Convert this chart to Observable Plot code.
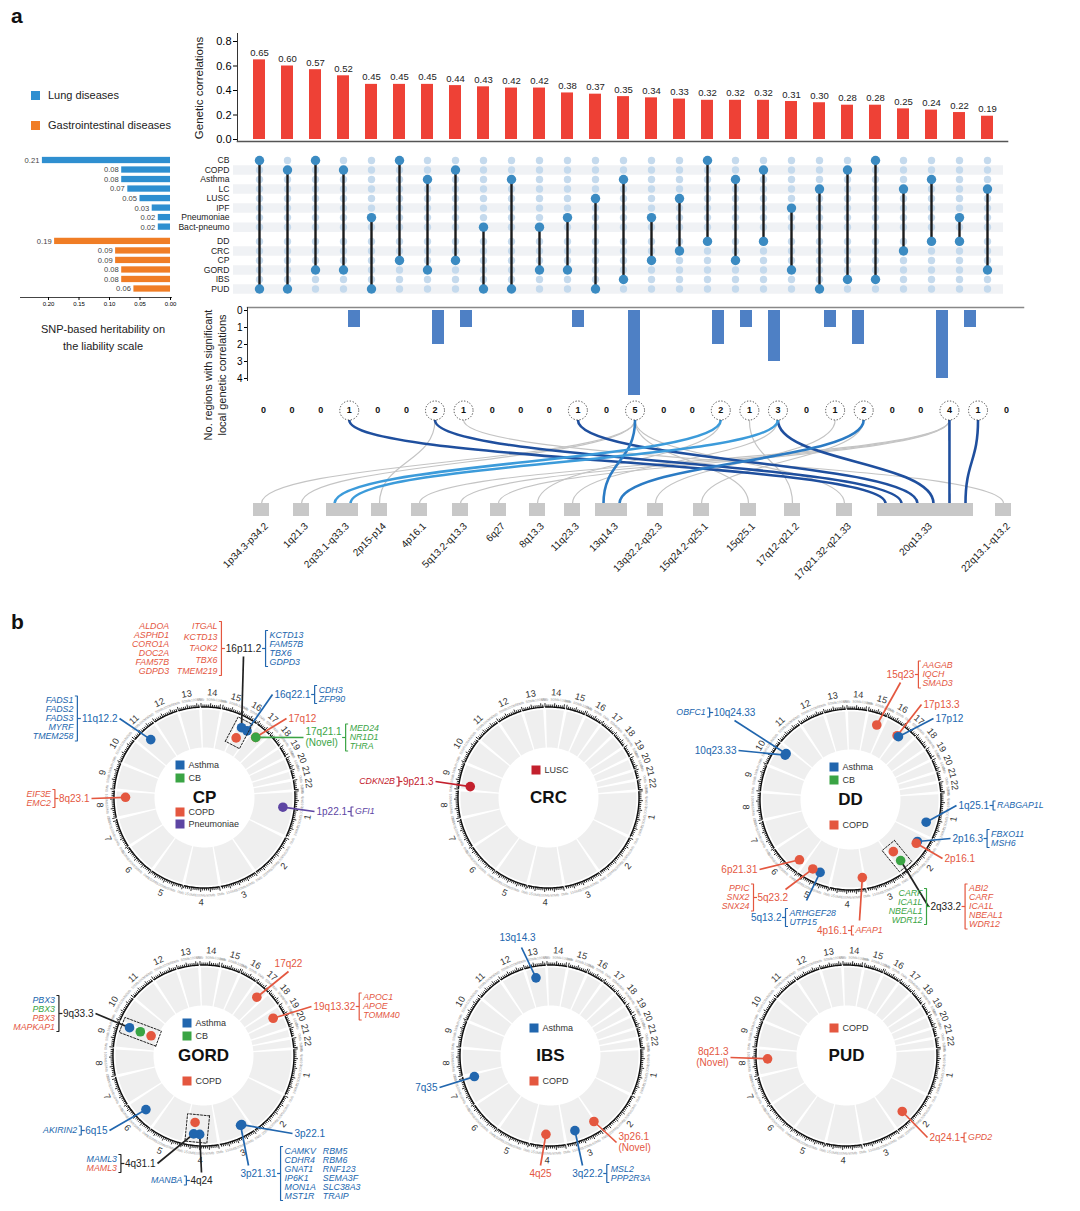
<!DOCTYPE html>
<html><head><meta charset="utf-8">
<script src="https://cdn.jsdelivr.net/npm/d3@7"></script>
<script src="https://cdn.jsdelivr.net/npm/@observablehq/plot@0.6"></script>
<style>
body{margin:0;background:#fff;font-family:"Liberation Sans",Arial,Helvetica,sans-serif;}
#wrap{position:relative;width:1080px;height:1211px;overflow:hidden;background:#fff;}
.t{position:absolute;white-space:nowrap;color:#222;line-height:1;}
</style></head>
<body><div id="wrap"></div>
<script>
// ---------------- DATA ----------------
const lungRows = ["CB","COPD","Asthma","LC","LUSC","IPF","Pneumoniae","Bact-pneumo"];
const giRows = ["DD","CRC","CP","GORD","IBS","PUD"];
const heritLung = [0.21,0.08,0.08,0.07,0.05,0.03,0.02,0.02];
const heritGI = [0.19,0.09,0.09,0.08,0.08,0.06];
const corrValues = [0.65,0.60,0.57,0.52,0.45,0.45,0.45,0.44,0.43,0.42,0.42,0.38,0.37,0.35,0.34,0.33,0.32,0.32,0.32,0.31,0.30,0.28,0.28,0.25,0.24,0.22,0.19];
const pairLung = ["CB","COPD","CB","COPD","Pneumoniae","CB","Asthma","COPD","Bact-pneumo","Asthma","Bact-pneumo","Pneumoniae","LUSC","Asthma","Pneumoniae","LUSC","CB","Asthma","COPD","IPF","LC","COPD","CB","LC","Asthma","Pneumoniae","LC"];
const pairGI = ["PUD","PUD","GORD","GORD","PUD","CP","GORD","CP","PUD","PUD","GORD","GORD","PUD","IBS","CP","CRC","DD","CP","DD","GORD","PUD","IBS","IBS","CRC","DD","DD","GORD"];
const regionCounts = [0,0,0,1,0,0,2,1,0,0,0,1,0,5,0,0,2,1,3,0,1,2,0,0,4,1,0];
const regions = ["1p34.3-p34.2","1q21.3","2q33.1-q33.3","2p15-p14","4p16.1","5q13.2-q13.3","6q27","8q13.3","11q23.3","13q14.3","13q32.2-q32.3","15q24.2-q25.1","15q25.1","17q12-q21.2","17q21.32-q21.33","20q13.33","22q13.1-q13.2"];
const linkFrom = [4,7,12,19,25,26,14,22,17,19,7,8,14,14,14,14,17,18,19,21,22,25,25,25];
const linkTo = ["20q13.33","20q13.33","20q13.33","20q13.33","20q13.33","20q13.33","13q14.3","13q14.3","2q33.1-q33.3","2q33.1-q33.3","2p15-p14","22q13.1-q13.2","1p34.3-p34.2","1q21.3","15q25.1","17q21.32-q21.33","8q13.3","17q12-q21.2","11q23.3","13q32.2-q32.3","15q24.2-q25.1","4p16.1","5q13.2-q13.3","6q27"];
const linkKind = ["dark","dark","dark","dark","dark","dark","mid","mid","light","light","gray","gray","gray","gray","gray","gray","gray","gray","gray","gray","gray","gray","gray","gray"];

const chromLengths = [249.25,243.2,198.0,191.15,180.9,171.1,159.1,146.4,141.2,135.5,135.0,133.85,115.2,107.35,102.5,90.35,81.2,78.1,59.1,63.0,48.1,51.3];

const cpHits = [
 {trait:"Asthma", region:"11q12.2", chr:11, mb:61.6},
 {trait:"COPD", region:"8q23.1", chr:8, mb:109.5},
 {trait:"Pneumoniae", region:"1p22.1", chr:1, mb:92.9},
 {trait:"Asthma", region:"16p11.2", chr:16, mb:30.0, group:"g1"},
 {trait:"COPD", region:"16p11.2", chr:16, mb:30.0, group:"g1"},
 {trait:"Asthma", region:"16q22.1", chr:16, mb:68.7},
 {trait:"COPD", region:"17q12", chr:17, mb:37.5},
 {trait:"CB", region:"17q21.1", chr:17, mb:38.2}
];
const cpLabels = [
 {text:"11q12.2", trait:"Asthma", left:{cols:[["FADS1","FADS2","FADS3","MYRF","TMEM258"]]}},
 {text:"8q23.1", trait:"COPD", left:{cols:[["EIF3E","EMC2"]]}},
 {text:"1p22.1", trait:"Pneumoniae", right:{cols:[["GFI1"]]}},
 {text:"16p11.2", trait:null, left:{trait:"COPD", cols:[["ALDOA","ASPHD1","CORO1A","DOC2A","FAM57B","GDPD3"],["ITGAL","KCTD13","TAOK2","TBX6","TMEM219"]]}, right:{trait:"Asthma", cols:[["KCTD13","FAM57B","TBX6","GDPD3"]]}},
 {text:"16q22.1", trait:"Asthma", right:{cols:[["CDH3","ZFP90"]]}},
 {text:"17q12", trait:"COPD"},
 {text:"17q21.1", trait:"CB", novel:true, right:{cols:[["MED24","NR1D1","THRA"]]}}
];
const crcHits = [{trait:"LUSC", region:"9p21.3", chr:9, mb:22.0}];
const crcLabels = [{text:"9p21.3", trait:"LUSC", left:{cols:[["CDKN2B"]]}}];
const ddHits = [
 {trait:"COPD", region:"15q23", chr:15, mb:67.4},
 {trait:"COPD", region:"17p13.3", chr:17, mb:2.0},
 {trait:"Asthma", region:"17p12", chr:17, mb:12.0},
 {trait:"Asthma", region:"10q24.33", chr:10, mb:105.7},
 {trait:"Asthma", region:"10q23.33", chr:10, mb:95.0},
 {trait:"Asthma", region:"1q25.1", chr:1, mb:174.2},
 {trait:"Asthma", region:"2p16.3", chr:2, mb:48.0},
 {trait:"COPD", region:"2p16.1", chr:2, mb:60.6},
 {trait:"CB", region:"2q33.2", chr:2, mb:203.5, group:"g1"},
 {trait:"COPD", region:"2q33.2", chr:2, mb:203.5, group:"g1"},
 {trait:"COPD", region:"4p16.1", chr:4, mb:7.8},
 {trait:"Asthma", region:"5q13.2", chr:5, mb:72.8},
 {trait:"COPD", region:"5q23.2", chr:5, mb:122.0},
 {trait:"COPD", region:"6p21.31", chr:6, mb:33.5}
];
const ddLabels = [
 {text:"15q23", trait:"COPD", right:{cols:[["AAGAB","IQCH","SMAD3"]]}},
 {text:"17p13.3", trait:"COPD"},
 {text:"17p12", trait:"Asthma"},
 {text:"10q24.33", trait:"Asthma", left:{cols:[["OBFC1"]]}},
 {text:"10q23.33", trait:"Asthma"},
 {text:"1q25.1", trait:"Asthma", right:{cols:[["RABGAP1L"]]}},
 {text:"2p16.3", trait:"Asthma", right:{cols:[["FBXO11","MSH6"]]}},
 {text:"2p16.1", trait:"COPD"},
 {text:"2q33.2", trait:null, left:{trait:"CB", cols:[["CARF","ICA1L","NBEAL1","WDR12"]]}, right:{trait:"COPD", cols:[["ABI2","CARF","ICA1L","NBEAL1","WDR12"]]}},
 {text:"4p16.1", trait:"COPD", right:{cols:[["AFAP1"]]}},
 {text:"5q13.2", trait:"Asthma", right:{cols:[["ARHGEF28","UTP15"]]}},
 {text:"5q23.2", trait:"COPD", left:{cols:[["PPIC","SNX2","SNX24"]]}},
 {text:"6p21.31", trait:"COPD"}
];
const gordHits = [
 {trait:"COPD", region:"17q22", chr:17, mb:55.0},
 {trait:"COPD", region:"19q13.32", chr:19, mb:45.4},
 {trait:"Asthma", region:"9q33.3", chr:9, mb:128.5, group:"g1"},
 {trait:"CB", region:"9q33.3", chr:9, mb:128.5, group:"g1"},
 {trait:"COPD", region:"9q33.3", chr:9, mb:128.5, group:"g1"},
 {trait:"Asthma", region:"4q24", chr:4, mb:103.6, group:"g2"},
 {trait:"Asthma", region:"4q31.1", chr:4, mb:140.6, group:"g2"},
 {trait:"COPD", region:"4q31.1", chr:4, mb:140.6, group:"g2"},
 {trait:"Asthma", region:"6q15", chr:6, mb:88.4},
 {trait:"Asthma", region:"3p22.1", chr:3, mb:42.0},
 {trait:"Asthma", region:"3p21.31", chr:3, mb:49.7}
];
const gordLabels = [
 {text:"17q22", trait:"COPD"},
 {text:"19q13.32", trait:"COPD", right:{cols:[["APOC1","APOE","TOMM40"]]}},
 {text:"9q33.3", trait:null, left:{cols:[[["PBX3","Asthma"],["PBX3","CB"],["PBX3","COPD"],["MAPKAP1","COPD"]]]}},
 {text:"4q31.1", trait:null, left:{cols:[[["MAML3","Asthma"],["MAML3","COPD"]]]}},
 {text:"4q24", trait:null, left:{trait:"Asthma", cols:[["MANBA"]]}},
 {text:"6q15", trait:"Asthma", left:{cols:[["AKIRIN2"]]}},
 {text:"3p22.1", trait:"Asthma"},
 {text:"3p21.31", trait:"Asthma", right:{cols:[["CAMKV","CDHR4","GNAT1","IP6K1","MON1A","MST1R"],["RBM5","RBM6","RNF123","SEMA3F","SLC38A3","TRAIP"]]}}
];
const ibsHits = [
 {trait:"Asthma", region:"13q14.3", chr:13, mb:51.0},
 {trait:"Asthma", region:"7q35", chr:7, mb:144.0},
 {trait:"COPD", region:"3p26.1", chr:3, mb:4.5},
 {trait:"Asthma", region:"3q22.2", chr:3, mb:133.5},
 {trait:"COPD", region:"4q25", chr:4, mb:108.0}
];
const ibsLabels = [
 {text:"13q14.3", trait:"Asthma"},
 {text:"7q35", trait:"Asthma"},
 {text:"3p26.1", trait:"COPD", novel:true},
 {text:"3q22.2", trait:"Asthma", right:{cols:[["MSL2","PPP2R3A"]]}},
 {text:"4q25", trait:"COPD"}
];
const pudHits = [
 {trait:"COPD", region:"8q21.3", chr:8, mb:88.0},
 {trait:"COPD", region:"2q24.1", chr:2, mb:157.3}
];
const pudLabels = [
 {text:"8q21.3", trait:"COPD", novel:true},
 {text:"2q24.1", trait:"COPD", right:{cols:[["GPD2"]]}}
];

// ---------------- STYLE / LAYOUT ----------------
const traitColors = {Asthma:"#2166ae", CB:"#3aa444", COPD:"#e4573f", Pneumoniae:"#5d45a3", LUSC:"#c3202d"};
const linkColors = {dark:"#1f4f9e", mid:"#2b7bc4", light:"#3c9bda", gray:"#c4c4c4"};
const REGION_GAPS = [24,17,13,24,25,22,23,19,15,20,30,31,28,36,25,22];
const GI_OFFSET = 8.5;
// label layout relative to circle centre: [dx, dy, anchor, lineEndDx, lineEndDy]
const cpLayout = {"11q12.2":[-85,-79,"end"], "8q23.1":[-113,1,"end"], "1p22.1":[110,14,"start"], "16p11.2":[39,-141,"above"], "16q22.1":[68,-103,"start"], "17q12":[82,-79,"start"], "17q21.1":[99,-60,"start"]};
const crcLayout = {"9p21.3":[-113,-16,"end"]};
const ddLayout = {"15q23":[50,-117,"above"], "17p13.3":[71,-95,"start"], "17p12":[83,-81,"start"], "10q24.33":[-116,-79,"above"], "10q23.33":[-112,-49,"end"], "1q25.1":[106,6,"start"], "2p16.3":[100,39,"start"], "2p16.1":[92,59,"start"], "2q33.2":[78,107,"start"], "4p16.1":[-1,131,"end",9,121], "5q13.2":[-67,118,"end",-44,101], "5q23.2":[-95,98,"start",-65,90], "6p21.31":[-91,70,"end"]};
const gordLayout = {"17q22":[85,-84,"above"], "19q13.32":[108,-49,"start"], "9q33.3":[-108,-42,"end"], "4q31.1":[-46,108,"end"], "4q24":[-2,117,"below"], "6q15":[-94,75,"end"], "3p22.1":[89,78,"start"], "3p21.31":[55,110,"below",45,110]};
const ibsLayout = {"13q14.3":[-33,-110,"above",-29,-108], "7q35":[-111,32,"end"], "3p26.1":[66,87,"start"], "3q22.2":[37,110,"below",32,110], "4q25":[-10,110,"below"]};
const pudLayout = {"8q21.3":[-116,2,"end"], "2q24.1":[81,82,"start"]};

const circles = [
 {name:"CP", hits:cpHits, labels:cpLabels, layout:cpLayout, legendTop:["Asthma","CB"], legendBottom:["COPD","Pneumoniae"], cx:204, cy:797},
 {name:"CRC", hits:crcHits, labels:crcLabels, layout:crcLayout, legendTop:["LUSC"], legendBottom:[], cx:548, cy:797},
 {name:"DD", hits:ddHits, labels:ddLabels, layout:ddLayout, legendTop:["Asthma","CB"], legendBottom:["COPD"], cx:850, cy:799},
 {name:"GORD", hits:gordHits, labels:gordLabels, layout:gordLayout, legendTop:["Asthma","CB"], legendBottom:["COPD"], cx:203, cy:1055},
 {name:"IBS", hits:ibsHits, labels:ibsLabels, layout:ibsLayout, legendTop:["Asthma"], legendBottom:["COPD"], cx:550, cy:1055},
 {name:"PUD", hits:pudHits, labels:pudLabels, layout:pudLayout, legendTop:["COPD"], legendBottom:[], cx:846, cy:1055}
];

const FONT = '"Liberation Sans", Arial, Helvetica, sans-serif';
const ST = `position:absolute;left:0;top:0;background:transparent;overflow:visible;font-family:${FONT};`;
const wrap = document.getElementById("wrap");
const place = el => wrap.appendChild(el);
function tw(s, fs){ let w=0; for(const ch of s){ if(".,;:!|'".includes(ch)) w+=0.278; else if("ijl".includes(ch)) w+=0.222; else if("()-[]{}frtI".includes(ch)) w+=0.333; else if("mM".includes(ch)) w+=0.833; else if(ch==="W") w+=0.944; else if(ch>="A"&&ch<="Z") w+=0.68; else w+=0.556; } return w*fs; }

// ---------------- PANEL A ----------------
const cols = d3.range(1, 28);
const corrData = cols.map((c,i)=>({col:c, value:corrValues[i], lung:pairLung[i], gi:pairGI[i]}));
const rowsAll = lungRows.map((n,i)=>({name:n, idx:i, shade:i%2===1})).concat(giRows.map((n,j)=>({name:n, idx:GI_OFFSET+j, shade:j%2===1})));
const rowIdx = new Map(rowsAll.map(r=>[r.name, r.idx]));
const heritData = lungRows.map((n,i)=>({name:n, h:heritLung[i], group:"lung", idx:rowIdx.get(n)})).concat(giRows.map((n,j)=>({name:n, h:heritGI[j], group:"gi", idx:rowIdx.get(n)})));
const countData = cols.map((c,i)=>({col:c, n:regionCounts[i]}));
const bandTop = {type:"band", domain:cols, range:[232.9,1013.1], padding:0.56, axis:null};
const bandLow = {type:"band", domain:cols, range:[240.7,1028.4], padding:0.56, axis:null};

// top bars
place(Plot.plot({
  width:1080, height:150, marginLeft:237, marginRight:73, marginTop:33, marginBottom:9, style:ST,
  x: bandTop, y:{domain:[0,0.8], range:[139,41]},
  marks:[
    Plot.barY(corrData, {x:"col", y:"value", fill:"#ee4136"}),
    Plot.text(corrData, {x:"col", y:"value", text:d=>d.value.toFixed(2), dy:-7, fontSize:9.5, fill:"#222"}),
    Plot.frame({anchor:"left", stroke:"#333"}),
    Plot.frame({anchor:"bottom", stroke:"#555", strokeWidth:1.6}),
    Plot.axisY({ticks:[0,0.2,0.4,0.6,0.8], tickFormat:d3.format(".1f"), tickSize:4, tickPadding:2, fontSize:11, label:null})
  ]
}));

// matrix
const actives = corrData.flatMap(d=>[{col:d.col, idx:rowIdx.get(d.lung)},{col:d.col, idx:rowIdx.get(d.gi)}]);
const cells = cols.flatMap(c=>rowsAll.map(r=>({col:c, idx:r.idx})));
place(Plot.plot({
  width:1080, height:300, marginLeft:233, marginRight:77, marginTop:150, marginBottom:5, style:ST,
  x: bandTop, y:{domain:[0,13.5], range:[160,288.5], axis:null},
  marks:[
    Plot.ruleY(rowsAll.filter(r=>r.shade), {y:"idx", stroke:"#f0f2f5", strokeWidth:9.5}),
    Plot.dot(cells, {x:"col", y:"idx", r:3.7, fill:"#c5daed"}),
    Plot.ruleX(corrData, {x:"col", y1:d=>rowIdx.get(d.lung), y2:d=>rowIdx.get(d.gi), stroke:"#1b1b1b", strokeWidth:2.4}),
    Plot.dot(actives, {x:"col", y:"idx", r:4.7, fill:"#3b8bc2"}),
    Plot.text(rowsAll, {y:"idx", text:"name", frameAnchor:"left", dx:-4, textAnchor:"end", fontSize:8.6, fill:"#222"})
  ]
}));

// heritability
place(Plot.plot({
  width:200, height:315, marginLeft:20, marginRight:29, marginTop:150, marginBottom:18, style:ST,
  x:{domain:[0,0.2], range:[170,48]}, y:{domain:[0,13.5], range:[160,288.5], axis:null}, color:{type:"identity"},
  marks:[
    Plot.rect(heritData, {x1:0, x2:"h", y1:d=>d.idx-0.33, y2:d=>d.idx+0.33, fill:d=>d.group==="lung"?"#2f8fd0":"#f07d25"}),
    Plot.text(heritData, {x:"h", y:"idx", text:d=>d.h.toFixed(2), textAnchor:"end", dx:-3, fontSize:7.6, fill:"#444"}),
    Plot.frame({anchor:"bottom", stroke:"#444"}),
    Plot.axisX({ticks:[0,0.05,0.1,0.15,0.2], tickFormat:d3.format(".2f"), tickSize:3, tickPadding:1, fontSize:6, label:null})
  ]
}));

// lower bars
place(Plot.plot({
  width:1080, height:400, marginLeft:247, marginRight:57, marginTop:307, marginBottom:20, style:ST,
  x: bandLow, y:{domain:[0,4], range:[310,378]},
  marks:[
    Plot.barY(countData.filter(d=>d.n>0), {x:"col", y:"n", fill:"#4e80c5"}),
    Plot.frame({anchor:"top", stroke:"#888", strokeWidth:1.5}),
    Plot.frame({anchor:"left", stroke:"#333"}),
    Plot.axisY({ticks:[0,1,2,3,4], tickFormat:d3.format("d"), tickSize:3, tickPadding:2, fontSize:10, label:null})
  ]
}));

// ---------------- OVERLAY (links + panel b) in page units ----------------
const colScale = d3.scaleBand().domain(cols).range(bandLow.range).padding(0.56);
const colX = c => colScale(c) + colScale.bandwidth()/2;
const linkData = linkFrom.map((c,i)=>({col:c, region:linkTo[i], kind:linkKind[i]}));
const slotsPer = d3.rollup(linkData, v=>v.length, d=>d.region);
let xcur = 253;
const regionBoxes = regions.map((name,i)=>{ if(i>0) xcur += REGION_GAPS[i-1]; const w = 16*(slotsPer.get(name)||1); const b = {name, x1:xcur, x2:xcur+w}; xcur += w; return b; });
const boxBy = new Map(regionBoxes.map(b=>[b.name,b]));
for (const [reg, arr] of d3.group(linkData, d=>d.region)) {
  const b = boxBy.get(reg); const s = arr.slice().sort((a,c)=>a.col-c.col);
  s.forEach((d,j)=>{ d.x2 = b.x1 + (b.x2-b.x1)*(j+0.5)/s.length; d.x1 = colX(d.col); });
}

// circle geometry
const S = 0.11885, GAP = 0.8, START = 86;
const chromStart = []; { let c=0; chromLengths.forEach(L=>{ chromStart.push(c); c+=L; }); }
const angOf = (chr, mb) => START + (chromStart[chr-1] + mb)*S + (chr-1)*GAP;
const polar = (cx,cy,r,a) => [cx + r*Math.sin(a*Math.PI/180), cy - r*Math.cos(a*Math.PI/180)];
function tangentRot(a){ let b = ((a%360)+360)%360; if (b>90 && b<270) return b-180; if (b>=270) return b-360; return b; }

const sectorPts=[], axisPts=[], ticks=[], tickLabels=[], chromLabels=[], dots=[], leaders=[], boxPts=[], bracketPts=[], connectors=[];
const labelsBy={start:[],end:[],middle:[]}, genesBy={left:[],right:[]};
const legendRects=[], legendTexts=[], titles=[];

circles.forEach(C=>{
  const {cx, cy} = C;
  chromLengths.forEach((L,k)=>{
    const chr=k+1, a0=angOf(chr,0), a1=angOf(chr,L);
    const n = Math.max(4, Math.ceil(a1-a0));
    const id = C.name+"-"+chr;
    for (let i=0;i<=n;i++){ const a=a0+0.45+(a1-a0-0.9)*i/n; const [x,y]=polar(cx,cy,69,a); sectorPts.push({x,y,id}); }
    for (let i=0;i<=n;i++){ const a=a0+(a1-a0)*i/n; const [x,y]=polar(cx,cy,90.5,a); axisPts.push({x,y,id}); }
    for (let mb=0; mb<=L; mb+=10){
      const a=angOf(chr,mb), major = mb%50===0;
      const [x1,y1]=polar(cx,cy,90.5,a), [x2,y2]=polar(cx,cy,major?94.5:93,a);
      ticks.push({x1,y1,x2,y2});
      if (major){ const [tx,ty]=polar(cx,cy,98,a); tickLabels.push({x:tx,y:ty,text:mb+"Mb",rot:tangentRot(a)}); }
    }
    const am=(a0+a1)/2; const [lx,ly]=polar(cx,cy,105,am);
    chromLabels.push({x:lx,y:ly,text:String(chr),rot:tangentRot(am)});
  });
  const pts = C.hits.map((h,i)=>{
    const ring = h.group ? C.hits.slice(0,i).filter(o=>o.group===h.group && o.region===h.region).length : 0;
    const a = angOf(h.chr,h.mb), r = 79-11.5*ring; const [x,y]=polar(cx,cy,r,a);
    return {...h, a, r, x, y, color:traitColors[h.trait]};
  });
  for (const [g, gp] of d3.group(pts.filter(p=>p.group), p=>p.group)) {
    const am = d3.mean(gp,p=>p.a)*Math.PI/180; const U=[Math.sin(am),-Math.cos(am)], V=[Math.cos(am),Math.sin(am)];
    const pu = gp.map(p=>(p.x-cx)*U[0]+(p.y-cy)*U[1]), pv = gp.map(p=>(p.x-cx)*V[0]+(p.y-cy)*V[1]);
    const u0=d3.min(pu)-8, u1=d3.max(pu)+8, v0=d3.min(pv)-8, v1=d3.max(pv)+8;
    const id=C.name+g;
    [[u0,v0],[u1,v0],[u1,v1],[u0,v1],[u0,v0]].forEach(([u,v])=>boxPts.push({x:cx+u*U[0]+v*V[0], y:cy+u*U[1]+v*V[1], id}));
  }
  C.labels.forEach(L=>{
    const [dx,dy,anchor,ex,ey] = C.layout[L.text];
    const ax=cx+dx, ay=cy+dy;
    const endX = ex!==undefined ? cx+ex : ax, endY = ey!==undefined ? cy+ey : ay;
    const color = L.trait ? traitColors[L.trait] : "#222";
    const fromPts = pts.filter(p=>p.region===L.text);
    const P = d3.least(fromPts, p=>(p.x-endX)**2+(p.y-endY)**2);
    leaders.push({x1:P.x, y1:P.y, x2:endX, y2:endY, color});
    const fs=10; const lines = L.novel ? [L.text,"(Novel)"] : [L.text];
    const w = d3.max(lines, s=>tw(s,fs));
    let tx, ty, left, right, ta;
    if (anchor==="start"){ tx=ax+2; ty=ay; left=tx; right=tx+w; ta="start"; }
    else if (anchor==="end"){ tx=ax-2; ty=ay; right=tx; left=tx-w; ta="end"; }
    else if (anchor==="above"){ tx=ax; ty=ay-8; left=tx-w/2; right=tx+w/2; ta="middle"; }
    else { tx=ax; ty=ay+8; left=tx-w/2; right=tx+w/2; ta="middle"; }
    lines.forEach((s,i)=>labelsBy[ta].push({x:tx, y: lines.length===1 ? ty : ty+(i===0?-5.5:5.5), text:s, color}));
    for (const side of ["left","right"]) {
      const G = L[side]; if (!G) continue;
      const gTrait = G.trait || L.trait;
      const bc = G.trait ? traitColors[G.trait] : color;
      const maxN = d3.max(G.cols, c=>c.length), span=(maxN-1)*9;
      const dir = side==="right"?1:-1;
      const bx = side==="right" ? right+4 : left-4;
      const yTop = ty-span/2-4.5, yBot = ty+span/2+4.5;
      const bid = C.name+L.text+side;
      [[bx+dir*2.5,yTop],[bx,yTop],[bx,yBot],[bx+dir*2.5,yBot]].forEach(([x,y])=>bracketPts.push({x,y,id:bid,c:bc}));
      connectors.push({x1: side==="right"?right+0.5:left-0.5, y1:ty, x2:bx, y2:ty, color:bc});
      const ordered = side==="right" ? G.cols : G.cols.slice().reverse();
      let gx = bx + dir*4;
      ordered.forEach(col=>{
        const n=col.length;
        col.forEach((g,i)=>{
          const [name,t] = Array.isArray(g) ? g : [g,gTrait];
          const gy = n===1 ? ty : ty-span/2+i*span/(n-1);
          genesBy[side].push({x:gx, y:gy, text:name, color:traitColors[t]});
        });
        const cw = d3.max(col, g=>tw(Array.isArray(g)?g[0]:g, 8.8));
        gx += dir*(cw+7);
      });
    }
  });
  pts.forEach(p=>dots.push(p));
  const all=[...C.legendTop,...C.legendBottom];
  const sx = cx-(4+d3.max(all,s=>s.length)*2);
  const topYs = C.legendTop.length===1 ? [-27] : [-32,-19];
  const botYs = C.legendBottom.length===1 ? [26] : [15,27];
  const addLeg=(t,y)=>{ legendRects.push({x1:sx-4.5,x2:sx+4.5,y1:y-4.5,y2:y+4.5,fill:traitColors[t]}); legendTexts.push({x:sx+8,y,text:t}); };
  C.legendTop.forEach((t,i)=>addLeg(t, cy+topYs[i]));
  C.legendBottom.forEach((t,i)=>addLeg(t, cy+botYs[i]));
  titles.push({x:cx, y:cy, text:C.name});
});

const grayLinks = linkData.filter(d=>d.kind==="gray"), blueLinks = linkData.filter(d=>d.kind!=="gray");
const countWith = countData.filter(d=>d.n>0);

place(Plot.plot({
  width:1080, height:1211, margin:0, style:ST,
  x:{domain:[0,1080], range:[0,1080], axis:null}, y:{domain:[0,1211], range:[0,1211], axis:null}, color:{type:"identity"},
  marks:[
    // panel a: links and regions
    Plot.link(grayLinks, {x1:"x1", y1:419.5, x2:"x2", y2:503, curve:"bump-y", stroke:linkColors.gray, strokeWidth:1.2}),
    Plot.link(blueLinks, {x1:"x1", y1:419.5, x2:"x2", y2:503, curve:"bump-y", stroke:d=>linkColors[d.kind], strokeWidth:2.6}),
    Plot.rect(regionBoxes, {x1:"x1", x2:"x2", y1:503, y2:516, fill:"#c8c8c8"}),
    Plot.text(regionBoxes, {x:d=>(d.x1+d.x2)/2+5, y:524, text:"name", rotate:-45, textAnchor:"end", fontSize:10, fill:"#222"}),
    Plot.dot(countWith, {x:d=>colX(d.col), y:410, r:9.5, fill:"white", stroke:"#333", strokeWidth:0.9, strokeDasharray:"1.3,1.7"}),
    Plot.text(countData, {x:d=>colX(d.col), y:410, text:d=>String(d.n), fontWeight:"bold", fontSize:9, fill:"#111"}),
    // panel b circles
    Plot.line(sectorPts, {x:"x", y:"y", z:"id", stroke:"#efefef", strokeWidth:38, strokeLinecap:"butt", strokeLinejoin:"round"}),
    Plot.line(axisPts, {x:"x", y:"y", z:"id", stroke:"#111", strokeWidth:1.4, strokeLinecap:"butt"}),
    Plot.link(ticks, {x1:"x1", y1:"y1", x2:"x2", y2:"y2", stroke:"#111", strokeWidth:0.9}),
    Plot.text(tickLabels, {x:"x", y:"y", text:"text", rotate:"rot", fontSize:3.6, fill:"#999"}),
    Plot.text(chromLabels, {x:"x", y:"y", text:"text", rotate:"rot", fontSize:9.2, fill:"#333"}),
    Plot.link(leaders, {x1:"x1", y1:"y1", x2:"x2", y2:"y2", stroke:"color", strokeWidth:1.7}),
    Plot.link(connectors, {x1:"x1", y1:"y1", x2:"x2", y2:"y2", stroke:"color", strokeWidth:1.2}),
    Plot.line(bracketPts, {x:"x", y:"y", z:"id", stroke:"c", strokeWidth:1.2, strokeLinejoin:"miter", strokeLinecap:"butt"}),
    Plot.dot(dots, {x:"x", y:"y", r:4.8, fill:"color"}),
    Plot.line(boxPts, {x:"x", y:"y", z:"id", stroke:"#222", strokeWidth:1, strokeDasharray:"2,1.6", strokeLinejoin:"miter"}),
    Plot.text(labelsBy.start, {x:"x", y:"y", text:"text", fill:"color", textAnchor:"start", fontSize:10}),
    Plot.text(labelsBy.end, {x:"x", y:"y", text:"text", fill:"color", textAnchor:"end", fontSize:10}),
    Plot.text(labelsBy.middle, {x:"x", y:"y", text:"text", fill:"color", textAnchor:"middle", fontSize:10}),
    Plot.text(genesBy.right, {x:"x", y:"y", text:"text", fill:"color", textAnchor:"start", fontSize:8.8, fontStyle:"italic"}),
    Plot.text(genesBy.left, {x:"x", y:"y", text:"text", fill:"color", textAnchor:"end", fontSize:8.8, fontStyle:"italic"}),
    Plot.rect(legendRects, {x1:"x1", x2:"x2", y1:"y1", y2:"y2", fill:"fill"}),
    Plot.text(legendTexts, {x:"x", y:"y", text:"text", textAnchor:"start", fontSize:9, fill:"#333"}),
    Plot.text(titles, {x:"x", y:"y", text:"text", fontSize:17, fontWeight:"bold", fill:"#111"})
  ]
}));

// ---------------- HTML text ----------------
function addText(txt, css){ const d=document.createElement("div"); d.className="t"; d.textContent=txt; d.style.cssText += css; wrap.appendChild(d); return d; }
function addBox(css){ const d=document.createElement("div"); d.style.cssText = "position:absolute;"+css; wrap.appendChild(d); }
addText("a", "left:11px;top:5px;font-size:21px;font-weight:bold;color:#111;");
addText("b", "left:11px;top:611px;font-size:21px;font-weight:bold;color:#111;");
addBox("left:31px;top:91px;width:9px;height:9px;background:#2f8fd0;");
addText("Lung diseases", "left:48px;top:90px;font-size:11px;");
addBox("left:31px;top:121px;width:9px;height:9px;background:#f07d25;");
addText("Gastrointestinal diseases", "left:48px;top:120px;font-size:11px;");
addText("SNP-based heritability on", "left:3px;width:200px;text-align:center;top:324px;font-size:11px;");
addText("the liability scale", "left:3px;width:200px;text-align:center;top:341px;font-size:11px;");
addText("Genetic correlations", "left:200px;top:88px;font-size:11.5px;transform:translate(-50%,-50%) rotate(-90deg);");
addText("No. regions with significant", "left:208px;top:375px;font-size:11px;transform:translate(-50%,-50%) rotate(-90deg);");
addText("local genetic correlations", "left:222px;top:375px;font-size:11px;transform:translate(-50%,-50%) rotate(-90deg);");
</script>
</body></html>
